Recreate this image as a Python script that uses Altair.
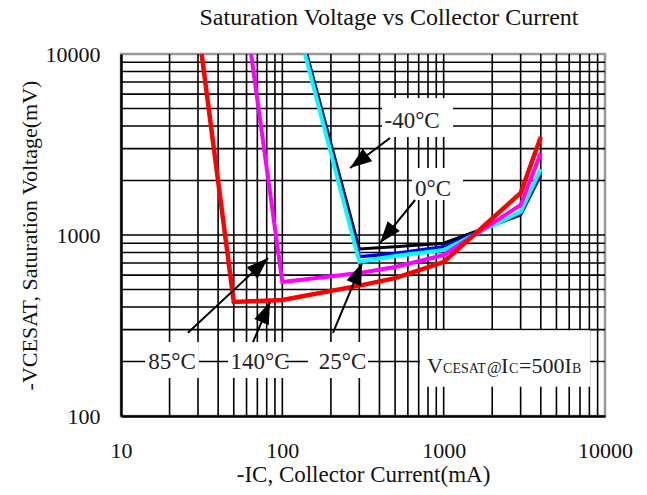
import altair as alt
import pandas as pd

# ---- data ----
ic_140 = [31.6, 50, 100, 300, 500, 1000, 3000, 4000]
vce_140 = [10000, 427, 437, 525, 578, 709, 1708, 3478]
ic_85 = [64, 100, 300, 500, 1000, 3000, 4000]
vce_85 = [10000, 550, 617, 666, 775, 1465, 2838]
ic_25 = [138, 300, 500, 1000, 3000, 4000]
vce_25 = [10000, 712, 765, 826, 1345, 2315]
ic_0 = [140, 300, 500, 1000, 3000, 4000]
vce_0 = [10000, 759, 791, 861, 1320, 2230]
ic_m40 = [142, 300, 500, 1000, 3000, 4000]
vce_m40 = [10000, 837, 861, 900, 1290, 2145]

x_ticks = [10, 100, 1000, 10000]
y_ticks = [100, 1000, 10000]
x_grid = [m * 10 ** e for e in (1, 2, 3) for m in range(1, 10)][1:]
y_grid = [m * 10 ** e for e in (2, 3) for m in range(1, 10)][1:]

# annotation labels
label_text = ["-40°C", "0°C", "85°C", "140°C", "25°C"]
label_x = [637, 859, 20.7, 72.8, 236]
label_y = [4238, 1795, 199, 199, 199]
box_x1 = [415, 637, 14.1, 46.1, 144, 714]
box_x2 = [1143, 1318, 30.4, 104, 340, 8090]
box_y1 = [3478, 1561, 162, 162, 162, 145]
box_y2 = [5715, 2344, 256, 256, 256, 298]
arrow_x1 = [465, 665, 26.0, 65.8, 206]
arrow_y1 = [3436, 1561, 288, 256, 288]
arrow_x2 = [263, 403, 81.5, 83.9, 312]
arrow_y2 = [2344, 903, 746, 426, 700]
arrow_angle = [233, 219, 47, 23, 22]

cond_text = ["V", "CESAT", "@", "I", "C", "=500I", "B"]
cond_size = [22, 14, 16, 22, 14, 22, 14]
cond_x = [789, 992, 1858, 2269, 2544, 2934, 6252]
cond_y = [173] * 7

series = [
    ("-40°C", ic_m40, vce_m40, "#000000", 3),
    ("0°C", ic_0, vce_0, "#0000FF", 3.5),
    ("25°C", ic_25, vce_25, "#00FFFF", 4),
    ("85°C", ic_85, vce_85, "#FF00FF", 4),
    ("140°C", ic_140, vce_140, "#FF0000", 4.5),
]

FONT = "Liberation Serif"
xscale = alt.Scale(type="log", domain=[10, 10000])
yscale = alt.Scale(type="log", domain=[100, 10000])
xaxis = alt.Axis(values=x_ticks, format="d", grid=False, ticks=False,
                 labelFlush=False, labelOverlap=False, labelPadding=24,
                 title="-IC, Collector Current(mA)", titlePadding=2,
                 domainColor="#000", domainWidth=2.5)
yaxis = alt.Axis(values=y_ticks, format="d", grid=False, ticks=False,
                 labelFlush=False, labelOverlap=False, labelPadding=21,
                 title="-VCESAT, Saturation Voltage(mV)", titlePadding=4,
                 domainColor="#000", domainWidth=2.5)


def X(f="x"):
    return alt.X(f"{f}:Q", scale=xscale, axis=xaxis)


def Y(f="y"):
    return alt.Y(f"{f}:Q", scale=yscale, axis=yaxis)


vgrid = alt.Chart(pd.DataFrame({"x": x_grid})).mark_rule(
    color="#000", strokeWidth=1.6).encode(x=X())
hgrid = alt.Chart(pd.DataFrame({"y": y_grid})).mark_rule(
    color="#000", strokeWidth=1.6).encode(y=Y())

boxes = alt.Chart(pd.DataFrame({"x": box_x1, "x2": box_x2, "y": box_y1, "y2": box_y2})).mark_rect(
    color="white").encode(x=X(), x2="x2:Q", y=Y(), y2="y2:Q")

lines = []
for name, xs, ys, col, w in series:
    df = pd.DataFrame({"x": xs, "y": ys, "i": range(len(xs))})
    lines.append(alt.Chart(df).mark_line(color=col, strokeWidth=w, clip=True,
                                         strokeJoin="miter").encode(x=X(), y=Y(), order="i:Q"))

arr_df = pd.DataFrame({"x": arrow_x1, "y": arrow_y1, "x2": arrow_x2, "y2": arrow_y2,
                       "tx": arrow_x2, "ty": arrow_y2, "a": arrow_angle})
arrow_lines = alt.Chart(arr_df).mark_rule(color="#000", strokeWidth=2).encode(
    x=X(), y=Y(), x2="x2:Q", y2="y2:Q")
arrow_heads = alt.Chart(arr_df).mark_point(
    shape="M0,0L-0.36,1L0.36,1Z", filled=True, color="#000", opacity=1, size=1900,
    strokeWidth=0).encode(x=X("tx"), y=Y("ty"), angle=alt.Angle("a:Q", scale=None))

labels = alt.Chart(pd.DataFrame({"x": label_x, "y": label_y, "t": label_text})).mark_text(
    font=FONT, fontSize=23, color="#222", baseline="middle", align="center").encode(
    x=X(), y=Y(), text="t:N")

cond = alt.Chart(pd.DataFrame({"x": cond_x, "y": cond_y, "t": cond_text, "s": cond_size})).mark_text(
    font=FONT, color="#222", baseline="alphabetic", align="left").encode(
    x=X(), y=Y(), text="t:N", size=alt.Size("s:Q", scale=None, legend=None))

chart = alt.layer(vgrid, hgrid, boxes, *lines, arrow_lines, arrow_heads, labels, cond).properties(
    width=484, height=362,
    autosize=alt.AutoSizeParams(type="none"),
    padding={"left": 121, "top": 54, "right": 42, "bottom": 79},
    title=alt.TitleParams("Saturation Voltage vs Collector Current", font=FONT, fontSize=24,
                          fontWeight="normal", color="#111", dx=26, offset=13, anchor="middle"),
).configure_view(stroke="#999", strokeWidth=2.5).configure_axis(
    labelFont=FONT, labelFontSize=22, labelColor="#111",
    titleFont=FONT, titleFontSize=23, titleFontWeight="normal", titleColor="#111"
).configure_axisY(titleFontSize=22)

chart.save("out.html", embed_options={"renderer": "svg", "actions": False})
